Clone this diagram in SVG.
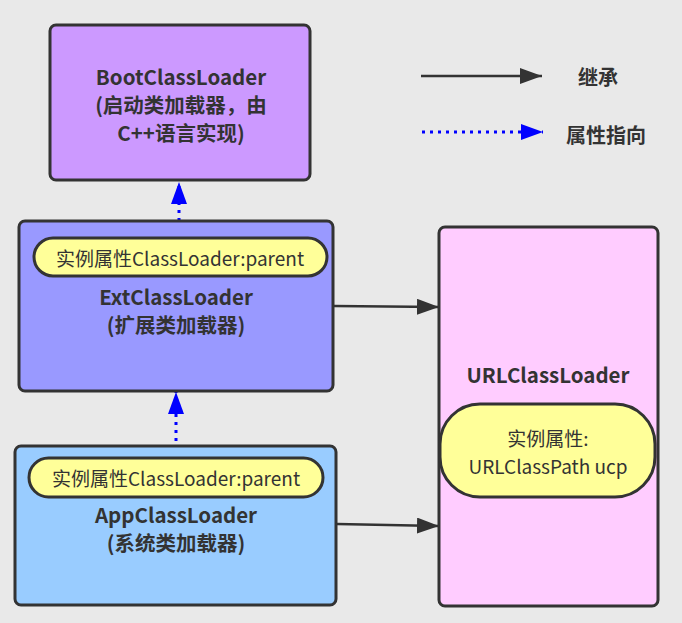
<svg xmlns="http://www.w3.org/2000/svg" width="682" height="623" viewBox="0 0 682 623">
<defs>
<style>
.box{stroke:#333;stroke-width:3}
.pill{fill:#ffff99;stroke:#333;stroke-width:3}
.t{font-family:"Noto Sans CJK SC","Noto Sans",sans-serif;fill:#333;text-anchor:middle;dominant-baseline:central}
.b{font-weight:bold;font-size:20.5px}
.n{font-size:19px}
.inh{stroke:#333;stroke-width:2.5;fill:none}
.attr{stroke:#0000ff;stroke-width:3;stroke-dasharray:3 5;fill:none}
</style>
<marker id="ah" markerWidth="24" markerHeight="16" refX="22" refY="8" orient="auto" markerUnits="userSpaceOnUse">
<path d="M0,0 L22,8 L0,16 Z" fill="#333"/>
</marker>
<marker id="ab" markerWidth="24" markerHeight="16" refX="22" refY="8" orient="auto" markerUnits="userSpaceOnUse">
<path d="M0,0 L22,8 L0,16 Z" fill="#0000ff"/>
</marker>
</defs>
<rect width="682" height="623" fill="#e9e9e9"/>
<g id="connectors">
<line class="inh" x1="421" y1="76" x2="542" y2="76" marker-end="url(#ah)"/>
<line class="attr" x1="422" y1="132" x2="543" y2="132" marker-end="url(#ab)"/>
<line class="inh" x1="334" y1="306" x2="439" y2="307" marker-end="url(#ah)"/>
<line class="inh" x1="337" y1="524" x2="439" y2="526" marker-end="url(#ah)"/>
<line class="attr" x1="179" y1="237" x2="179" y2="182" marker-end="url(#ab)"/>
<line class="attr" x1="176" y1="457" x2="176" y2="392" marker-end="url(#ab)"/>
</g>
<g id="legend">
<text class="t b" x="598" y="76" style="font-size:20px">继承</text>
<text class="t b" x="606" y="134" style="font-size:20px">属性指向</text>
</g>
<g id="boot">
<rect class="box" x="50" y="25" width="260" height="155" rx="6" fill="#cc99ff"/>
<text class="t b" x="181" y="76">BootClassLoader</text>
<text class="t b" x="181" y="104">(启动类加载器，由</text>
<text class="t b" x="181" y="132">C++语言实现)</text>
</g>
<g id="ext">
<rect class="box" x="19" y="221" width="314" height="170" rx="6" fill="#9999ff"/>
<rect class="pill" x="34" y="238" width="293" height="38" rx="19"/>
<text class="t n" x="180" y="257">实例属性ClassLoader:parent</text>
<text class="t b" x="176" y="296">ExtClassLoader</text>
<text class="t b" x="176" y="324">(扩展类加载器)</text>
</g>
<g id="app">
<rect class="box" x="15" y="446" width="321" height="159" rx="6" fill="#99ccff"/>
<rect class="pill" x="29" y="458" width="294" height="39" rx="19.5"/>
<text class="t n" x="176" y="477">实例属性ClassLoader:parent</text>
<text class="t b" x="176" y="514">AppClassLoader</text>
<text class="t b" x="176" y="542">(系统类加载器)</text>
</g>
<g id="url">
<rect class="box" x="439" y="227" width="219" height="379" rx="6" fill="#ffccff"/>
<text class="t b" x="548" y="374">URLClassLoader</text>
<rect class="pill" x="440" y="404" width="215" height="93" rx="40"/>
<text class="t n" x="548" y="437">实例属性:</text>
<text class="t n" x="548" y="465">URLClassPath ucp</text>
</g>
</svg>
